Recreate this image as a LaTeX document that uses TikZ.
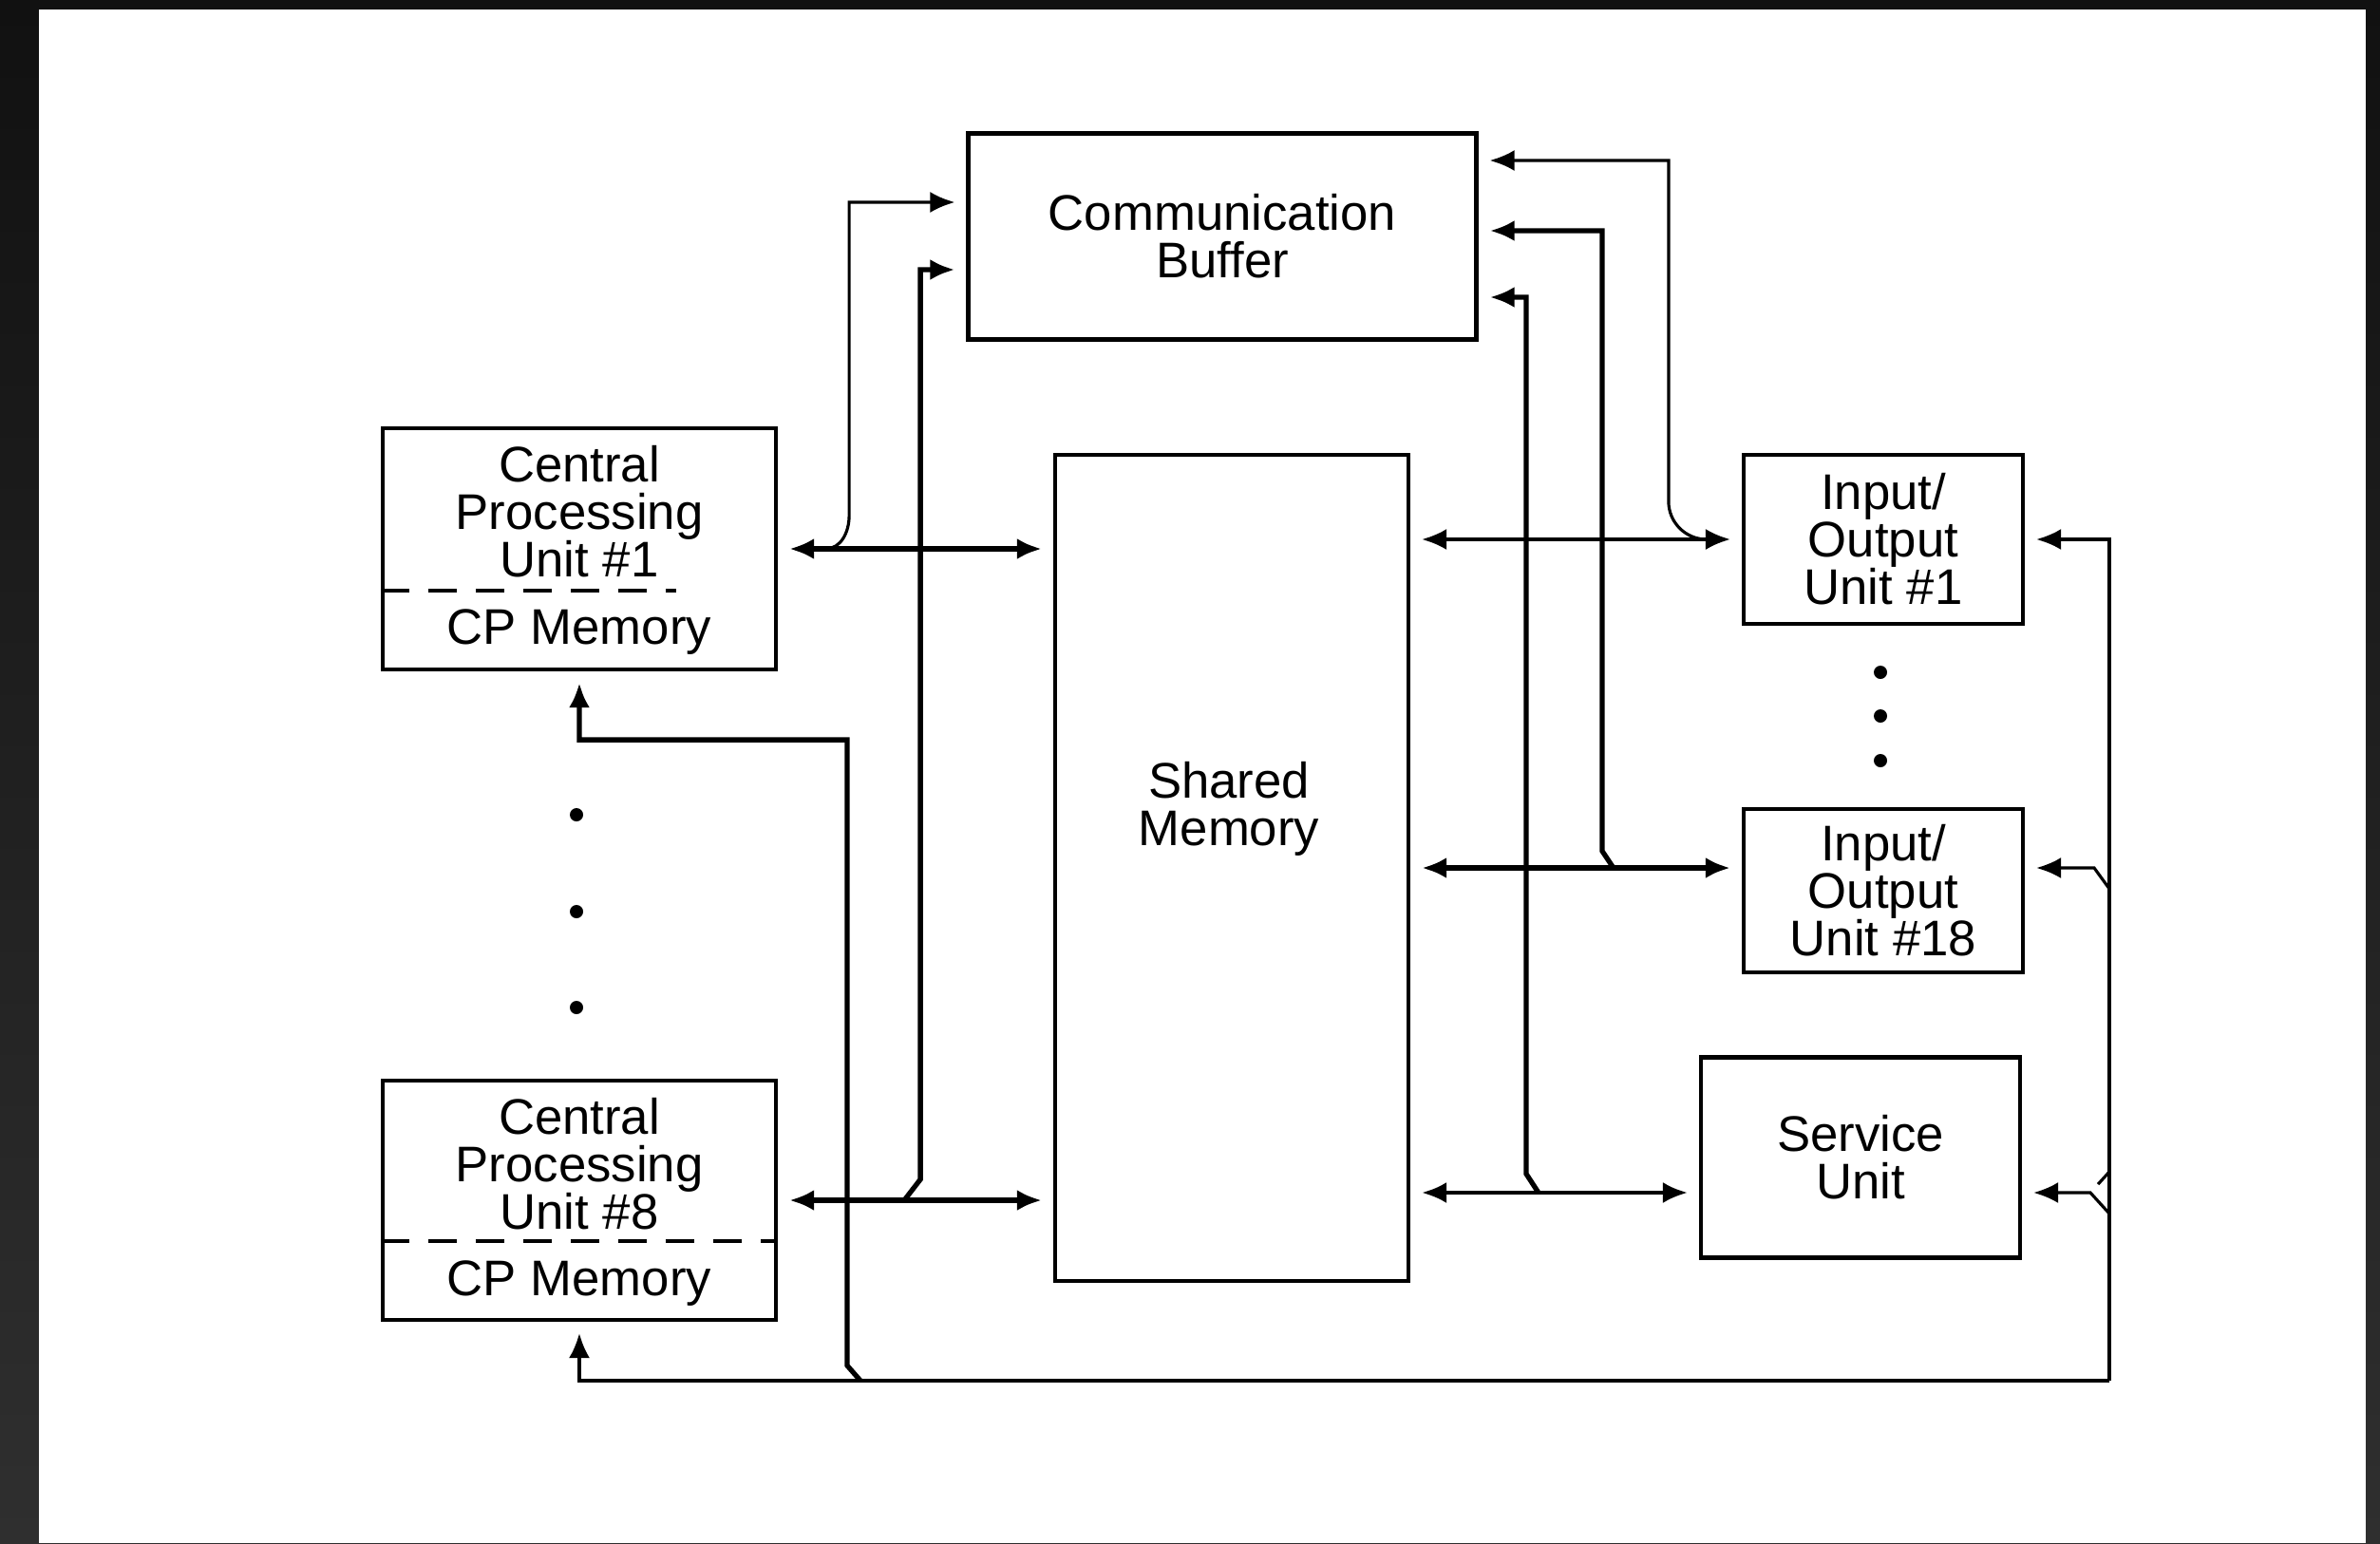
\documentclass[tikz,border=0pt]{standalone}
\usepackage{fontspec}
\setmainfont{Liberation Sans}
\usetikzlibrary{positioning,calc,arrows.meta}
\definecolor{frametop}{RGB}{17,17,17}
\definecolor{framelow}{RGB}{47,47,47}
\tikzset{%
  unit/.style={draw, rectangle, line width=1.2pt, inner sep=0pt},% block outline
  caption/.style={align=center, font=\fontsize{15}{14.2}\selectfont},% block text
  bus/.style={line width=1.9pt, <->, shorten <=1.2mm, shorten >=1.2mm},% main data path
  thinbus/.style={bus, line width=0.9pt},
  wire/.style={line width=0.9pt, shorten >=1.2mm},% thin link
  feed/.style={line width=1.5pt, shorten >=1.2mm},% medium link
  split/.style={line width=0.9pt, dash pattern=on 0.3cm off 0.2cm},
  dot/.style={circle, fill, inner sep=0pt, minimum size=1.4mm}
}

\begin{document}
\begin{tikzpicture}[>={Latex[length=2.6mm,width=2.2mm]}]
\useasboundingbox (0,0) rectangle (25.06,-16.25);
\shade[top color=frametop, bottom color=framelow] (0,0) rectangle (25.06,-16.25);
\fill[white] (0.41,-0.10) rectangle (24.91,-16.25);

% blocks
\node[unit, caption, minimum width=5.35cm, minimum height=2.17cm] (buffer) at (12.87,-2.49) {Communication\\Buffer};
\node[unit, minimum width=3.72cm, minimum height=8.70cm] (shared) at (12.97,-9.14) {};
\node[caption] (sharedname) at (12.94,-8.52) {Shared\\Memory};

\node[unit, minimum width=4.14cm, minimum height=2.54cm] (cpua) at (6.10,-5.78) {};
\node[caption] (cpuaname) at (6.10,-5.39) {Central\\Processing\\Unit \#1};
\node[caption] (cpuamem) at (6.10,-6.66) {CP Memory};
\draw[split] (cpua.west |- 0,-6.22) -- (7.12,-6.22);

\node[unit, minimum width=4.14cm, minimum height=2.52cm] (cpub) at (6.10,-12.64) {};
\node[caption] (cpubname) at (6.10,-12.26) {Central\\Processing\\Unit \#8};
\node[caption] (cpubmem) at (6.10,-13.52) {CP Memory};
\draw[split] (cpub.west |- 0,-13.07) -- (cpub.east |- 0,-13.07);

\node[unit, caption, minimum width=2.94cm, minimum height=1.78cm] (ioa) at (19.83,-5.68) {Input/\\Output\\Unit \#1};
\node[unit, caption, minimum width=2.94cm, minimum height=1.72cm] (iob) at (19.83,-9.38) {Input/\\Output\\Unit \#18};
\node[unit, caption, minimum width=3.36cm, minimum height=2.11cm] (service) at (19.59,-12.19) {Service\\Unit};

\foreach \n/\y in {1/-8.58, 2/-9.60, 3/-10.61}
  \node[dot] (cdot\n) at (6.07,\y) {};
\foreach \n/\y in {1/-7.08, 2/-7.54, 3/-8.01}
  \node[dot] (idot\n) at (19.80,\y) {};

% ports
\coordinate (bufa) at ($(buffer.west)+(0,0.36)$);
\coordinate (bufb) at ($(buffer.west)+(0,-0.35)$);
\coordinate (bufc) at ($(buffer.east)+(0,0.80)$);
\coordinate (bufd) at ($(buffer.east)+(0,0.06)$);
\coordinate (bufe) at ($(buffer.east)+(0,-0.64)$);
\coordinate (iobin) at ($(iob.west)+(0,0.24)$);
\coordinate (iobout) at ($(iob.east)+(0,0.24)$);
\coordinate (servin) at ($(service.west)+(0,-0.37)$);
\coordinate (servout) at ($(service.east)+(0,-0.37)$);
\coordinate (rbus) at (22.21,-14.54);

% buses to shared memory
\draw[bus] (cpua.east) -- (cpua.east -| shared.west);
\draw[bus] (cpub.east) -- (cpub.east -| shared.west);
\draw[thinbus] (ioa.west -| shared.east) -- (ioa.west);
\draw[bus] (iobin -| shared.east) -- (iobin);
\draw[thinbus, line width=1.1pt] (servin -| shared.east) -- (servin);

% taps to the communication buffer
\draw[wire, ->] ([xshift=0.5cm]cpua.east) to[out=0,in=-90] ++(0.25,0.35) |- (bufa);
\draw[feed, ->] ([xshift=1.33cm]cpub.east) -- ++(0.17,0.22) |- (bufb);
\draw[wire, ->] ([xshift=-0.37cm]ioa.west) to[out=180,in=-90] ++(-0.40,0.40) |- (bufc);
\draw[feed, ->] ([xshift=-1.35cm]iobin) -- ++(-0.12,0.18) |- (bufd);
\draw[feed, ->] ([xshift=-1.69cm]servin) -- ++(-0.13,0.2) |- (bufe);

% return line
\draw[wire, ->] (rbus) |- (ioa.east);
\draw[wire, ->] ([yshift=5.18cm]rbus) -- ++(-0.16,0.22) -- (iobout);
\draw[wire, ->] ([yshift=1.76cm]rbus) -- ++(-0.2,0.22) -- (servout);
\draw[wire] ([yshift=2.2cm]rbus) -- ++(-0.2,-0.22);
\draw[wire, ->] (rbus) -| (cpub.south);
\draw[feed, ->] ([xshift=-13.15cm]rbus) -- ++(-0.14,0.16) |- ($(cpua.south)+(0,-0.72)$) -- (cpua.south);
\end{tikzpicture}
\end{document}
